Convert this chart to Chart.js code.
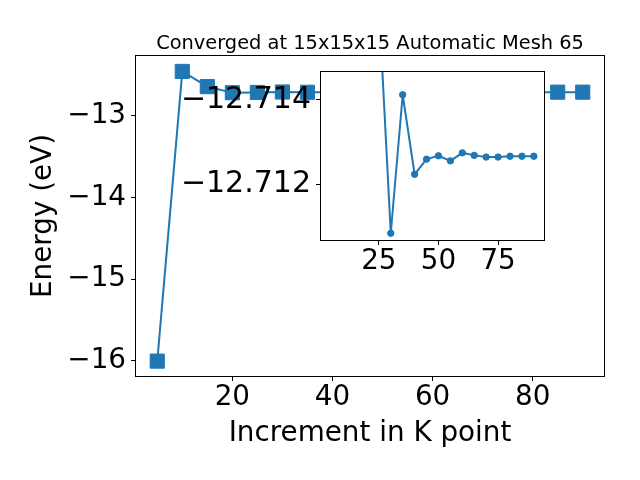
<!DOCTYPE html>
<html><head><meta charset="utf-8">
<script src="https://cdn.jsdelivr.net/npm/chart.js@4"></script>
<style>
html,body{margin:0;padding:0;background:#fff;}
#wrap{position:relative;width:640px;height:480px;overflow:hidden;}
#main{position:absolute;left:0;top:0;}
#inset{position:absolute;left:160px;top:30px;}
</style></head><body>
<div id="wrap"><canvas id="main" width="640" height="480"></canvas><canvas id="inset" width="400" height="270"></canvas></div>
<script>
const kPoints = [5,10,15,20,25,30,35,40,45,50,55,60,65,70,75,80,85,90];
const energies = [-16.005,-12.459,-12.645,-12.72,-12.7163,-12.71083,-12.71412,-12.71223,-12.71259,-12.71267,-12.71255,-12.71274,-12.71268,-12.71264,-12.71264,-12.71266,-12.71266,-12.71266];
const insetFromK = 20;
const mainXTicks = [20,40,60,80];
const mainYTicks = [-16,-15,-14,-13];
const insetXTicks = [25,50,75];
const insetYTicks = [-12.714,-12.712];
const titleText = 'Converged at 15x15x15 Automatic Mesh 65';
const xLabel = 'Increment in K point';
const yLabel = 'Energy (eV)';

const BLUE = '#1f77b4';
Chart.defaults.font.family = "'DejaVu Sans'";
Chart.defaults.color = '#000';

const pts = kPoints.map((x,i)=>({x:x, y:energies[i]}));
const insetPts = pts.filter(p => p.x >= insetFromK);
const fmt = (v, d) => (v < 0 ? '\u2212' : '') + Math.abs(v).toFixed(d);

const frame = {id:'frame', afterDraw(c){
  const {ctx, chartArea:a} = c;
  ctx.save(); ctx.strokeStyle='#000'; ctx.lineWidth=1;
  ctx.strokeRect(a.left-0.5, a.top-0.5, a.right-a.left+1, a.bottom-a.top+1);
  ctx.restore();
}};
const whiteBg = {id:'whiteBg', beforeDatasetsDraw(c){
  const {ctx, chartArea:a} = c;
  ctx.save(); ctx.fillStyle='#fff';
  ctx.fillRect(a.left, a.top, a.right-a.left, a.bottom-a.top);
  ctx.restore();
}};

const tickFont = {size:27.8, lineHeight:1};
const grid = {display:true, drawOnChartArea:false, drawTicks:true, tickLength:5, color:'#000', lineWidth:1};

new Chart(document.getElementById('main'), {
  type:'line',
  data:{datasets:[{data:pts, borderColor:BLUE, backgroundColor:BLUE, borderWidth:2,
    borderJoinStyle:'round', borderCapStyle:'round',
    pointStyle:'rect', pointRadius:10, pointBorderWidth:1, pointBorderColor:BLUE, pointBackgroundColor:BLUE, tension:0, clip:false}]},
  options:{
    responsive:false, animation:false, devicePixelRatio:1,
    layout:{padding:{left:0, top:0, right:36, bottom:0}},
    plugins:{legend:{display:false}, tooltip:{enabled:false},
      title:{display:true, text:titleText, fullSize:false, color:'#000',
        font:{size:19.4, weight:'normal', lineHeight:1}, padding:{top:34.3, bottom:2.3}}},
    scales:{
      x:{type:'linear', min:0.75, max:94.25, grid:grid, border:{display:false},
        afterBuildTicks(s){ s.ticks = mainXTicks.map(v=>({value:v})); },
        afterFit(s){ s.height = 104; },
        ticks:{font:tickFont, padding:3, maxRotation:0, callback:v=>fmt(v,0)},
        title:{display:true, text:xLabel, font:{size:27.8, lineHeight:1}, padding:{top:0, bottom:32}}},
      y:{type:'linear', min:-16.187, max:-12.270, grid:grid, border:{display:false},
        afterBuildTicks(s){ s.ticks = mainYTicks.map(v=>({value:v})); },
        afterFit(s){ s.width = 136; },
        ticks:{font:tickFont, padding:5, callback:v=>fmt(v,0)},
        title:{display:true, text:yLabel, font:{size:27.8, lineHeight:1}, padding:{top:30, bottom:0}}}
    }
  },
  plugins:[frame]
});

new Chart(document.getElementById('inset'), {
  type:'line',
  data:{datasets:[{data:insetPts, borderColor:BLUE, backgroundColor:BLUE, borderWidth:2,
    borderJoinStyle:'round', borderCapStyle:'round',
    pointStyle:'circle', pointRadius:3.2, pointBorderWidth:1, pointBorderColor:BLUE, pointBackgroundColor:BLUE, tension:0, clip:0}]},
  options:{
    responsive:false, animation:false, devicePixelRatio:1,
    layout:{padding:{left:0, top:42, right:16, bottom:0}},
    plugins:{legend:{display:false}, tooltip:{enabled:false}},
    scales:{
      x:{type:'linear', min:0.75, max:94.25, grid:grid, border:{display:false},
        afterBuildTicks(s){ s.ticks = insetXTicks.map(v=>({value:v})); },
        afterFit(s){ s.height = 60; },
        ticks:{font:tickFont, padding:3, maxRotation:0, callback:v=>fmt(v,0)}},
      y:{type:'linear', reverse:true, min:-12.71466, max:-12.71067, grid:grid, border:{display:false},
        afterBuildTicks(s){ s.ticks = insetYTicks.map(v=>({value:v})); },
        afterFit(s){ s.width = 161; },
        ticks:{font:{size:30, lineHeight:1}, padding:5, callback:v=>fmt(v,3)}}
    }
  },
  plugins:[whiteBg, frame]
});
</script>
</body></html>
